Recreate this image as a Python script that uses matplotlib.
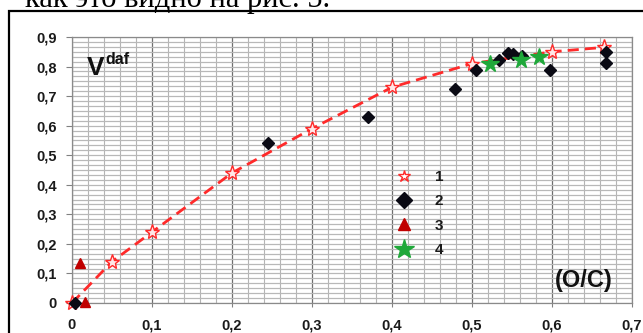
import matplotlib
matplotlib.use("Agg")
import matplotlib.pyplot as plt
from matplotlib.ticker import MultipleLocator, FuncFormatter
from matplotlib.lines import Line2D
from matplotlib.patches import Rectangle

# Series 1: red open stars joined by a dashed curve
s1_x = [0.0, 0.05, 0.1, 0.2, 0.3, 0.4, 0.5, 0.6, 0.665]
s1_y = [0.0, 0.14, 0.24, 0.44, 0.59, 0.73, 0.81, 0.85, 0.865]

# Series 2: black diamonds
s2_x = [0.004, 0.245, 0.37, 0.479, 0.505, 0.534, 0.545, 0.551, 0.563, 0.597, 0.667, 0.667]
s2_y = [0.0, 0.54, 0.63, 0.725, 0.787, 0.823, 0.845, 0.842, 0.835, 0.787, 0.849, 0.813]

# Series 3: dark red triangles
s3_x = [0.01, 0.016]
s3_y = [0.135, 0.005]

# Series 4: green stars
s4_x = [0.522, 0.561, 0.584]
s4_y = [0.81, 0.821, 0.834]

legend_labels = ["1", "2", "3", "4"]
x_ticks = [0, 0.1, 0.2, 0.3, 0.4, 0.5, 0.6, 0.7]
y_ticks = [0, 0.1, 0.2, 0.3, 0.4, 0.5, 0.6, 0.7, 0.8, 0.9]

SANS = "Liberation Sans"
W, H = 643, 333
fig = plt.figure(figsize=(W / 100, H / 100), dpi=100)
fig.patch.set_facecolor("white")

# caption line above the framed figure
fig.text(25 / W, 1 - 7 / H, "как это видно на рис. 5.", family="Liberation Serif",
         fontsize=22, color="black", va="baseline", ha="left")

# frame around the figure
fig.patches.append(Rectangle((9 / W, -0.2), 1.2, 1 - 10.5 / H + 0.2, transform=fig.transFigure,
                             fill=False, edgecolor="black", linewidth=1.6, zorder=0))

ax = fig.add_axes([72 / W, 30 / H, 560 / W, 266 / H])
ax.set_xlim(0, 0.7)
ax.set_ylim(0, 0.9)

# grid
ax.xaxis.set_major_locator(MultipleLocator(0.1))
ax.xaxis.set_minor_locator(MultipleLocator(0.02))
ax.yaxis.set_major_locator(MultipleLocator(0.1))
ax.yaxis.set_minor_locator(MultipleLocator(0.1 / 6))
ax.grid(which="major", axis="x", color="#6e6e6e", linewidth=0.9)
ax.grid(which="minor", axis="x", color="#b4b4b4", linewidth=0.8)
ax.grid(which="both", axis="y", color="#b8b8b8", linewidth=0.9)
ax.set_axisbelow(True)
ax.tick_params(which="minor", length=0)
ax.tick_params(which="major", axis="y", length=4, pad=7, color="#808080")
ax.tick_params(which="major", axis="x", length=3, pad=8, color="#808080")
for sp in ax.spines.values():
    sp.set_color("#8a8a8a")
    sp.set_linewidth(0.9)

fmt = FuncFormatter(lambda v, p: ("%g" % round(v, 2)).replace(".", ","))
ax.set_xticks(x_ticks)
ax.set_yticks(y_ticks)
ax.xaxis.set_major_formatter(fmt)
ax.yaxis.set_major_formatter(fmt)
for lab in ax.get_xticklabels() + ax.get_yticklabels():
    lab.set_family(SANS)
    lab.set_fontweight("bold")
    lab.set_fontsize(10.5)
    lab.set_color("#1a1a1a")

# data
ax.plot(s1_x, s1_y, color="#ff2a2a", linewidth=2, dashes=(4, 2.2), zorder=2, clip_on=False)
ax.plot(s1_x, s1_y, linestyle="none", marker="*", markersize=11, markerfacecolor="#ffe8e8",
        markeredgecolor="#ff2a2a", markeredgewidth=1.0, zorder=3, clip_on=False)
ax.plot(s2_x, s2_y, linestyle="none", marker="D", markersize=6.5, color="#0a0a14",
        zorder=4, clip_on=False)
ax.plot(s3_x, s3_y, linestyle="none", marker="^", markersize=7.5, color="#c00000",
        zorder=4, clip_on=False)
ax.plot(s4_x, s4_y, linestyle="none", marker="*", markersize=13, color="#1fa83a",
        zorder=5, clip_on=False)

handles = [
    Line2D([], [], linestyle="none", marker="*", markersize=9, markerfacecolor="white",
           markeredgecolor="#ff2a2a", markeredgewidth=1.0),
    Line2D([], [], linestyle="none", marker="D", markersize=8, color="#0a0a14"),
    Line2D([], [], linestyle="none", marker="^", markersize=8, color="#c00000"),
    Line2D([], [], linestyle="none", marker="*", markersize=15, color="#1fa83a"),
]
leg = ax.legend(handles, legend_labels, loc="upper left",
                bbox_to_anchor=((395 - 72) / 560, (303 - 170) / 266), frameon=False,
                prop={"family": SANS, "weight": "bold", "size": 11},
                labelspacing=0.68, handlelength=1.2, handletextpad=1.4, borderpad=0,
                borderaxespad=0)
for t in leg.get_texts():
    t.set_color("#1a1a1a")

# axis annotations
ax.text((87 - 72) / 560, (303 - 68) / 266, "V", transform=ax.transAxes, family=SANS,
        fontweight="bold", fontsize=19, color="#111111", ha="left", va="center")
ax.text((105 - 72) / 560, (303 - 60) / 266, "daf", transform=ax.transAxes, family=SANS,
        fontweight="bold", fontsize=11.5, color="#111111", ha="left", va="center")
ax.text((613 - 72) / 560, (303 - 281) / 266, "(O/C)", transform=ax.transAxes, family=SANS,
        fontweight="bold", fontsize=17, color="#111111", ha="right", va="center")

fig.savefig("out.png", dpi=100, facecolor="white")
